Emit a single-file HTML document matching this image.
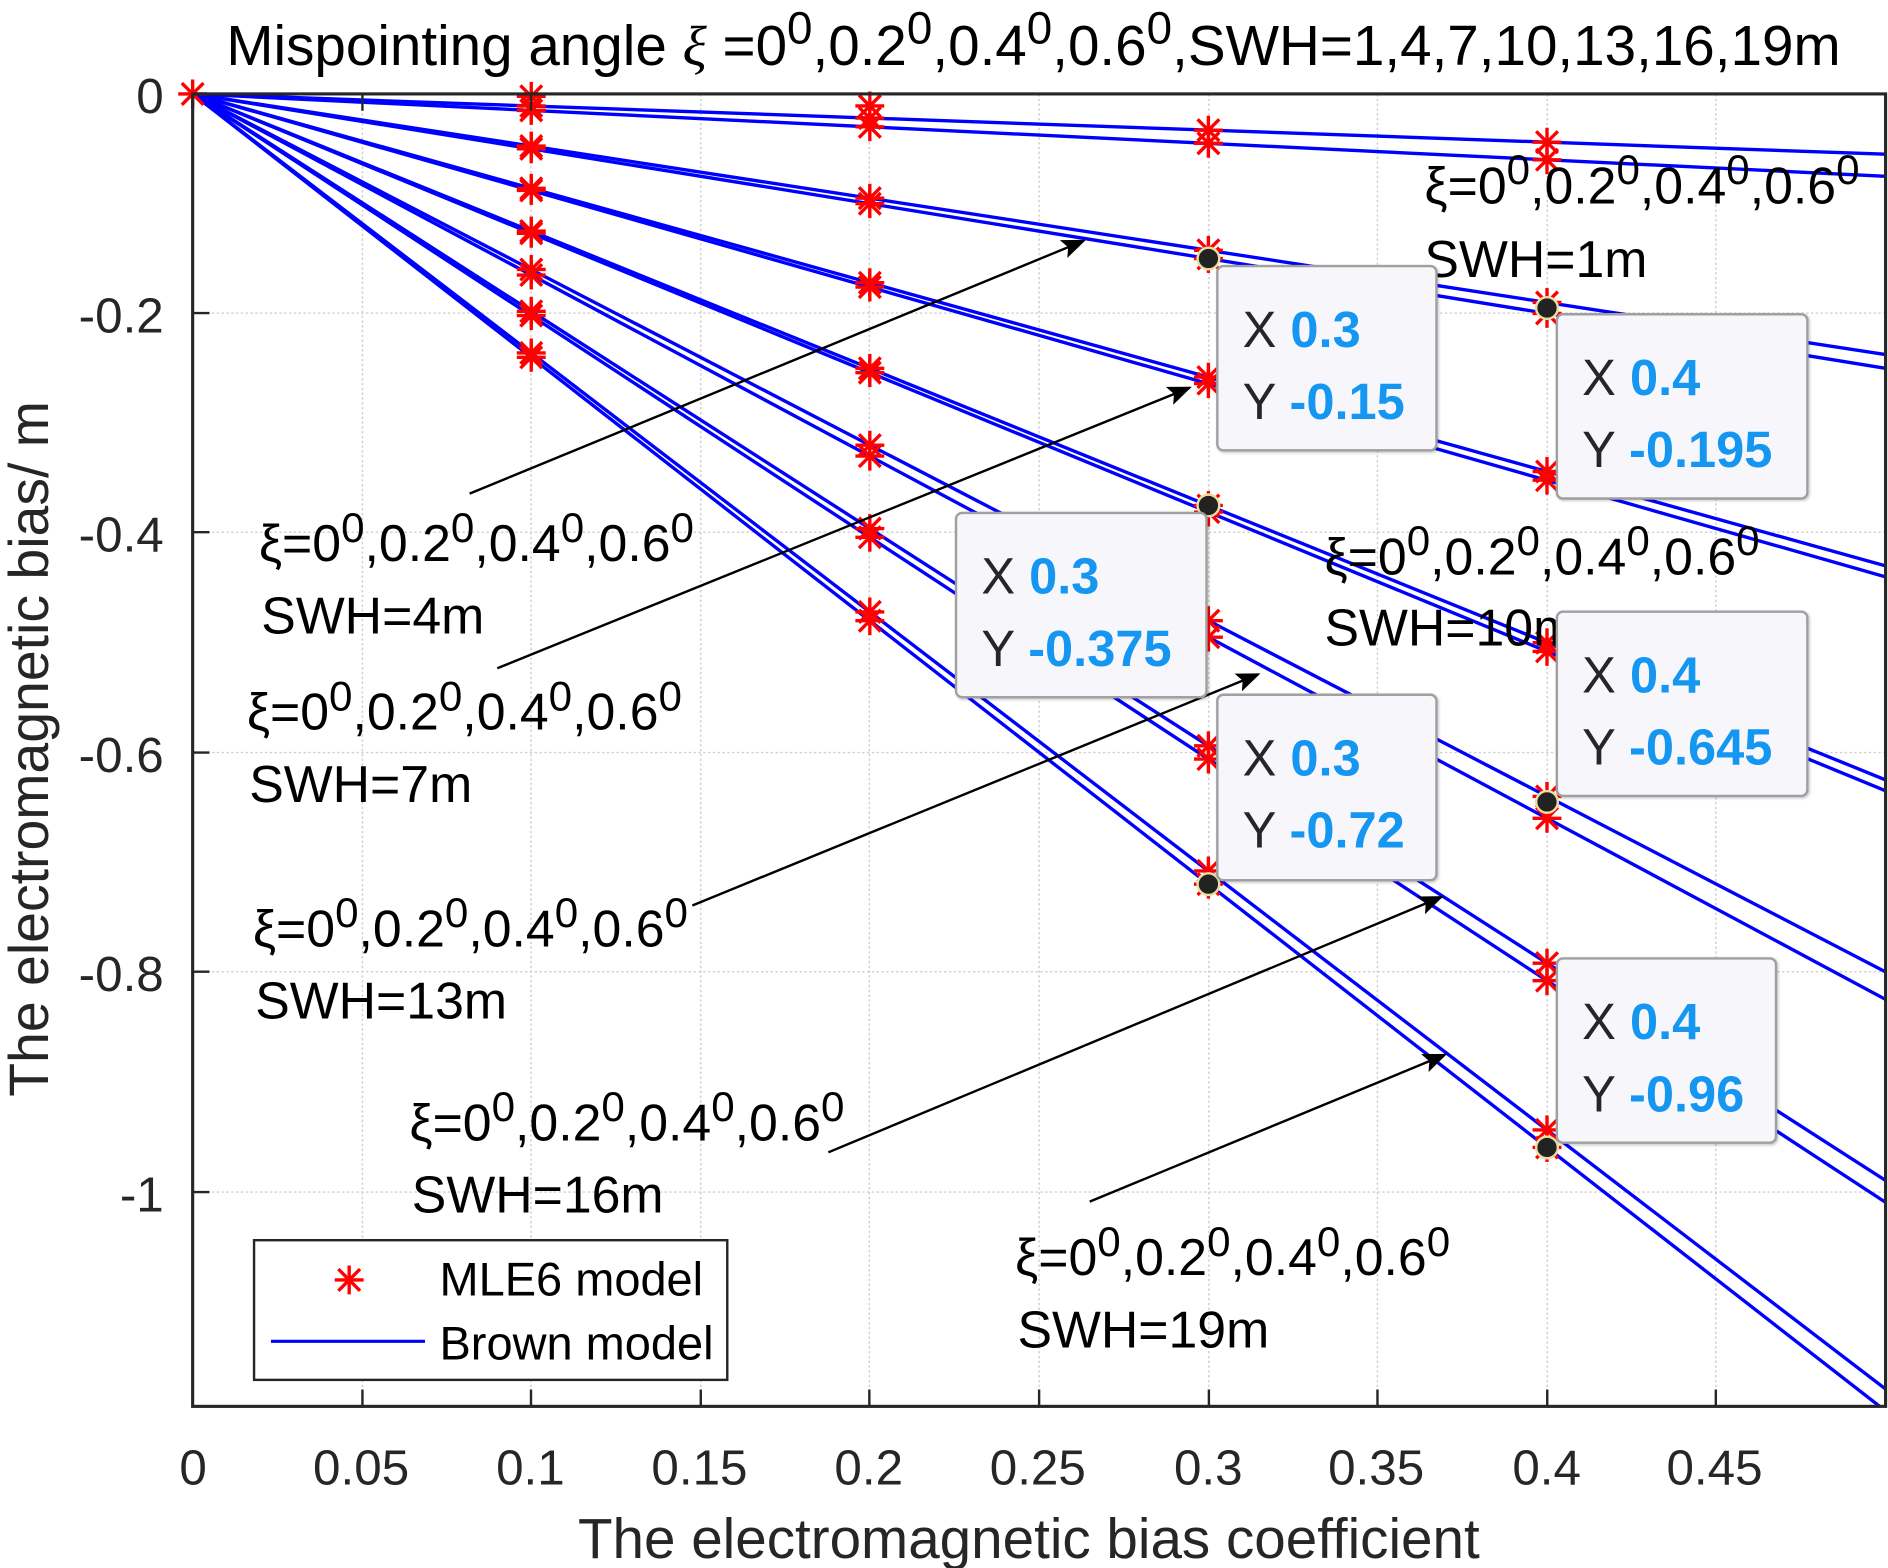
<!DOCTYPE html>
<html><head><meta charset="utf-8"><style>
html,body{margin:0;padding:0;background:#fff;}
#wrap{width:1888px;height:1568px;overflow:hidden;position:relative;}
#c{position:absolute;left:0;top:0;width:1568px;height:1302px;transform:scale(1.20408);transform-origin:0 0;font-family:"Liberation Sans",Arial,sans-serif;}
.t{position:absolute;white-space:nowrap;color:#000;font-size:43px;line-height:1;}
.t sup{font-size:35px;vertical-align:0;position:relative;top:-16px;}
.tk{position:absolute;font-size:41px;color:#262626;line-height:1;white-space:nowrap;}
.box{position:absolute;background:#f6f6fb;border:2px solid #a0a0a0;border-radius:6px;box-shadow:1px 1px 2px rgba(0,0,0,0.2);}
.box div{position:absolute;left:20px;font-size:42px;color:#262626;line-height:1;white-space:nowrap;}
.box b{color:#1596f0;}
</style></head><body><div id="wrap"><div id="c">
<svg width="1568" height="1302" style="position:absolute;left:0;top:0">
<defs>
<clipPath id="cp"><rect x="160" y="78" width="1406" height="1090"/></clipPath>
<g id="st" stroke="#ff0000" stroke-width="2.8"><line x1="-12" y1="0" x2="12" y2="0"/><line x1="0" y1="-12" x2="0" y2="12"/><line x1="-9" y1="-9" x2="9" y2="9"/><line x1="-9" y1="9" x2="9" y2="-9"/></g>
<marker id="ah" markerWidth="10" markerHeight="8" refX="9" refY="4" orient="auto" markerUnits="strokeWidth"><path d="M0,0 L10,4 L0,8 L2,4 z" fill="#000"/></marker>
</defs>
<g stroke="#d0d0d0" stroke-width="1.2" stroke-dasharray="2,2">
<line x1="301" y1="78" x2="301" y2="1168"/><line x1="441" y1="78" x2="441" y2="1168"/><line x1="582" y1="78" x2="582" y2="1168"/><line x1="722" y1="78" x2="722" y2="1168"/><line x1="863" y1="78" x2="863" y2="1168"/><line x1="1004" y1="78" x2="1004" y2="1168"/><line x1="1144" y1="78" x2="1144" y2="1168"/><line x1="1285" y1="78" x2="1285" y2="1168"/><line x1="1425" y1="78" x2="1425" y2="1168"/>
<line x1="160" y1="260" x2="1566" y2="260"/><line x1="160" y1="442" x2="1566" y2="442"/><line x1="160" y1="625" x2="1566" y2="625"/><line x1="160" y1="807" x2="1566" y2="807"/><line x1="160" y1="990" x2="1566" y2="990"/>
</g>
<g clip-path="url(#cp)" stroke="#0000ff" stroke-width="2.8" fill="none">
<line x1="160" y1="78" x2="1566" y2="128.1"/><line x1="160" y1="78" x2="1566" y2="146.4"/>
<line x1="160" y1="78" x2="1566" y2="294.5"/><line x1="160" y1="78" x2="1566" y2="305.9"/>
<line x1="160" y1="78" x2="1566" y2="470"/><line x1="160" y1="78" x2="1566" y2="479.1"/>
<line x1="160" y1="78" x2="1566" y2="647.7"/><line x1="160" y1="78" x2="1566" y2="656.8"/>
<line x1="160" y1="78" x2="1566" y2="807.2"/><line x1="160" y1="78" x2="1566" y2="830"/>
<line x1="160" y1="78" x2="1566" y2="980.4"/><line x1="160" y1="78" x2="1566" y2="998.6"/>
<line x1="160" y1="78" x2="1566" y2="1153.6"/><line x1="160" y1="78" x2="1566" y2="1171.8"/>
</g>
<g>
<use href="#st" x="160" y="78"/>
<use href="#st" x="441.2" y="80"/><use href="#st" x="722.4" y="88"/>
<use href="#st" x="441.2" y="88"/><use href="#st" x="722.4" y="98.1"/><use href="#st" x="1003.6" y="108.1"/><use href="#st" x="1284.8" y="118.1"/>
<use href="#st" x="441.2" y="91.7"/><use href="#st" x="722.4" y="105.3"/><use href="#st" x="1003.6" y="119"/><use href="#st" x="1284.8" y="132.7"/>
<use href="#st" x="441.2" y="121.3"/><use href="#st" x="722.4" y="164.6"/><use href="#st" x="1003.6" y="207.9"/><use href="#st" x="1284.8" y="251.2"/>
<use href="#st" x="441.2" y="123.6"/><use href="#st" x="722.4" y="169.2"/><use href="#st" x="1003.6" y="214.7"/><use href="#st" x="1284.8" y="260.3"/>
<use href="#st" x="441.2" y="156.4"/><use href="#st" x="722.4" y="234.8"/><use href="#st" x="1003.6" y="313.2"/><use href="#st" x="1284.8" y="391.6"/>
<use href="#st" x="441.2" y="158.2"/><use href="#st" x="722.4" y="238.4"/><use href="#st" x="1003.6" y="318.6"/><use href="#st" x="1284.8" y="398.8"/>
<use href="#st" x="441.2" y="191.9"/><use href="#st" x="722.4" y="305.9"/><use href="#st" x="1003.6" y="419.8"/><use href="#st" x="1284.8" y="533.8"/>
<use href="#st" x="441.2" y="193.8"/><use href="#st" x="722.4" y="309.5"/><use href="#st" x="1003.6" y="425.3"/><use href="#st" x="1284.8" y="541"/>
<use href="#st" x="441.2" y="223.8"/><use href="#st" x="722.4" y="369.7"/><use href="#st" x="1003.6" y="515.5"/><use href="#st" x="1284.8" y="661.4"/>
<use href="#st" x="441.2" y="228.4"/><use href="#st" x="722.4" y="378.8"/><use href="#st" x="1003.6" y="529.2"/><use href="#st" x="1284.8" y="679.6"/>
<use href="#st" x="441.2" y="258.5"/><use href="#st" x="722.4" y="439"/><use href="#st" x="1003.6" y="619.4"/><use href="#st" x="1284.8" y="799.9"/>
<use href="#st" x="441.2" y="262.1"/><use href="#st" x="722.4" y="446.2"/><use href="#st" x="1003.6" y="630.4"/><use href="#st" x="1284.8" y="814.5"/>
<use href="#st" x="441.2" y="293.1"/><use href="#st" x="722.4" y="508.2"/><use href="#st" x="1003.6" y="723.3"/><use href="#st" x="1284.8" y="938.4"/>
<use href="#st" x="441.2" y="296.8"/><use href="#st" x="722.4" y="515.5"/><use href="#st" x="1003.6" y="734.3"/><use href="#st" x="1284.8" y="953"/>
</g>
<g fill="#222" stroke="#e8e0a0" stroke-width="2">
<circle cx="1003.6" cy="214.7" r="9"/><circle cx="1284.8" cy="255.8" r="9"/><circle cx="1003.6" cy="419.8" r="9"/><circle cx="1284.8" cy="666" r="9"/><circle cx="1003.6" cy="734.3" r="9"/><circle cx="1284.8" cy="953" r="9"/>
</g>
<g stroke="#262626" stroke-width="2.6" fill="none">
<rect x="160" y="78" width="1406" height="1090"/>
</g>
<g stroke="#262626" stroke-width="2">
<line x1="301" y1="1168" x2="301" y2="1154"/><line x1="441" y1="1168" x2="441" y2="1154"/><line x1="582" y1="1168" x2="582" y2="1154"/><line x1="722" y1="1168" x2="722" y2="1154"/><line x1="863" y1="1168" x2="863" y2="1154"/><line x1="1004" y1="1168" x2="1004" y2="1154"/><line x1="1144" y1="1168" x2="1144" y2="1154"/><line x1="1285" y1="1168" x2="1285" y2="1154"/><line x1="1425" y1="1168" x2="1425" y2="1154"/>
<line x1="301" y1="78" x2="301" y2="92"/><line x1="441" y1="78" x2="441" y2="92"/>
<line x1="160" y1="260" x2="174" y2="260"/><line x1="160" y1="442" x2="174" y2="442"/><line x1="160" y1="625" x2="174" y2="625"/><line x1="160" y1="807" x2="174" y2="807"/><line x1="160" y1="990" x2="174" y2="990"/>
</g>
<g stroke="#000" stroke-width="2" fill="none">
<line x1="390" y1="410" x2="900" y2="200" marker-end="url(#ah)"/>
<line x1="413" y1="555" x2="988" y2="322" marker-end="url(#ah)"/>
<line x1="575" y1="752" x2="1045" y2="560" marker-end="url(#ah)"/>
<line x1="688" y1="957" x2="1197" y2="745" marker-end="url(#ah)"/>
<line x1="905" y1="998" x2="1200" y2="876" marker-end="url(#ah)"/>
</g>
<rect x="211" y="1030" width="393" height="116" fill="#fff" stroke="#262626" stroke-width="2"/>
<use href="#st" x="290" y="1063"/>
<line x1="225" y1="1114" x2="353" y2="1114" stroke="#0000ff" stroke-width="2.6"/>
</svg>

<div class="t" style="left:188px;top:14px;font-size:47px;">Mispointing angle <i style="font-family:'Liberation Serif',serif">ξ</i> =0<sup style="font-size:38px;top:-18px">0</sup>,0.2<sup style="font-size:38px;top:-18px">0</sup>,0.4<sup style="font-size:38px;top:-18px">0</sup>,0.6<sup style="font-size:38px;top:-18px">0</sup>,SWH=1,4,7,10,13,16,19m</div>

<div class="tk" style="right:1432px;top:60px;">0</div>
<div class="tk" style="right:1432px;top:242px;">-0.2</div>
<div class="tk" style="right:1432px;top:424px;">-0.4</div>
<div class="tk" style="right:1432px;top:607px;">-0.6</div>
<div class="tk" style="right:1432px;top:789px;">-0.8</div>
<div class="tk" style="right:1432px;top:972px;">-1</div>

<div class="tk" style="left:149px;top:1199px;">0</div>
<div class="tk" style="left:260px;top:1199px;">0.05</div>
<div class="tk" style="left:412px;top:1199px;">0.1</div>
<div class="tk" style="left:541px;top:1199px;">0.15</div>
<div class="tk" style="left:693px;top:1199px;">0.2</div>
<div class="tk" style="left:822px;top:1199px;">0.25</div>
<div class="tk" style="left:975px;top:1199px;">0.3</div>
<div class="tk" style="left:1103px;top:1199px;">0.35</div>
<div class="tk" style="left:1256px;top:1199px;">0.4</div>
<div class="tk" style="left:1384px;top:1199px;">0.45</div>

<div class="tk" style="left:480px;top:1254px;font-size:47px;">The electromagnetic bias coefficient</div>
<div class="tk" style="left:24px;top:622px;font-size:46px;transform:translate(-50%,-50%) rotate(-90deg);">The electromagnetic bias/ m</div>

<div class="t" style="left:1183px;top:134px;">ξ=0<sup>0</sup>,0.2<sup>0</sup>,0.4<sup>0</sup>,0.6<sup>0</sup></div>
<div class="t" style="left:1183px;top:195px;">SWH=1m</div>
<div class="t" style="left:215px;top:431px;">ξ=0<sup>0</sup>,0.2<sup>0</sup>,0.4<sup>0</sup>,0.6<sup>0</sup></div>
<div class="t" style="left:217px;top:491px;">SWH=4m</div>
<div class="t" style="left:205px;top:571px;">ξ=0<sup>0</sup>,0.2<sup>0</sup>,0.4<sup>0</sup>,0.6<sup>0</sup></div>
<div class="t" style="left:207px;top:631px;">SWH=7m</div>
<div class="t" style="left:1100px;top:442px;">ξ=0<sup>0</sup>,0.2<sup>0</sup>,0.4<sup>0</sup>,0.6<sup>0</sup></div>
<div class="t" style="left:1100px;top:501px;">SWH=10m</div>
<div class="t" style="left:210px;top:751px;">ξ=0<sup>0</sup>,0.2<sup>0</sup>,0.4<sup>0</sup>,0.6<sup>0</sup></div>
<div class="t" style="left:212px;top:811px;">SWH=13m</div>
<div class="t" style="left:340px;top:912px;">ξ=0<sup>0</sup>,0.2<sup>0</sup>,0.4<sup>0</sup>,0.6<sup>0</sup></div>
<div class="t" style="left:342px;top:972px;">SWH=16m</div>
<div class="t" style="left:843px;top:1024px;">ξ=0<sup>0</sup>,0.2<sup>0</sup>,0.4<sup>0</sup>,0.6<sup>0</sup></div>
<div class="t" style="left:845px;top:1084px;">SWH=19m</div>

<div class="t" style="left:365px;top:1044px;font-size:39px;">MLE6 model</div>
<div class="t" style="left:365px;top:1097px;font-size:39px;">Brown model</div>

<div class="box" style="left:1010px;top:220px;width:180px;height:151px;"><div style="top:31px;">X <b>0.3</b></div><div style="top:91px;">Y <b>-0.15</b></div></div>
<div class="box" style="left:1292px;top:260px;width:206px;height:151px;"><div style="top:31px;">X <b>0.4</b></div><div style="top:91px;">Y <b>-0.195</b></div></div>
<div class="box" style="left:793px;top:425px;width:206px;height:151px;"><div style="top:31px;">X <b>0.3</b></div><div style="top:91px;">Y <b>-0.375</b></div></div>
<div class="box" style="left:1292px;top:507px;width:206px;height:151px;"><div style="top:31px;">X <b>0.4</b></div><div style="top:91px;">Y <b>-0.645</b></div></div>
<div class="box" style="left:1010px;top:576px;width:180px;height:152px;"><div style="top:31px;">X <b>0.3</b></div><div style="top:91px;">Y <b>-0.72</b></div></div>
<div class="box" style="left:1292px;top:795px;width:180px;height:151px;"><div style="top:31px;">X <b>0.4</b></div><div style="top:91px;">Y <b>-0.96</b></div></div>
</div></div></body></html>
